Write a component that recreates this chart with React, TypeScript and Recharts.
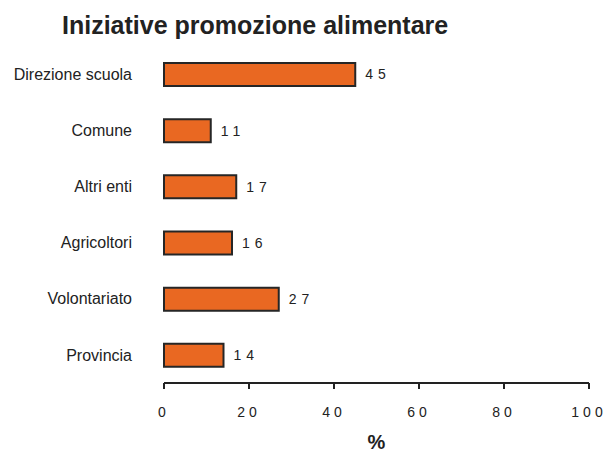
import React from 'react';
import { BarChart, Bar, XAxis, YAxis, LabelList } from 'recharts';

const CATEGORIES = ['Direzione scuola', 'Comune', 'Altri enti', 'Agricoltori', 'Volontariato', 'Provincia'];
const VALUES = [45, 11, 17, 16, 27, 14];
const X_TICKS = [0, 20, 40, 60, 80, 100];

const data = CATEGORIES.map((name, i) => ({ name, value: VALUES[i] }));

const FONT = '"Liberation Sans", Arial, sans-serif';
const INK = '#222222';

export default function App() {
  return (
    <div style={{ position: 'absolute', left: 0, top: 0, width: 606, height: 454, background: '#fff', fontFamily: FONT }}>
      <div
        style={{
          position: 'absolute',
          left: 62,
          top: 13,
          fontSize: 25,
          lineHeight: '25px',
          fontWeight: 'bold',
          color: INK,
          whiteSpace: 'nowrap',
        }}
      >
        Iniziative promozione alimentare
      </div>
      <BarChart
        width={606}
        height={454}
        data={data}
        layout="vertical"
        margin={{ top: 46, right: 17, bottom: 41, left: 0 }}
        barSize={23}
      >
        <XAxis
          type="number"
          domain={[0, 100]}
          ticks={X_TICKS}
          interval={0}
          height={30}
          axisLine={{ stroke: INK, strokeWidth: 2 }}
          tickLine={{ stroke: INK, strokeWidth: 2 }}
          tickSize={6}
          tickMargin={18}
          tick={{ fill: INK, fontSize: 14, fontFamily: FONT, letterSpacing: 4 }}
          label={{ value: '%', position: 'bottom', offset: 22, fill: INK, fontSize: 20, fontWeight: 'bold', fontFamily: FONT }}
        />
        <YAxis
          type="category"
          dataKey="name"
          width={164}
          axisLine={false}
          tickLine={false}
          tickSize={0}
          tickMargin={32}
          tick={{ fill: INK, fontSize: 16, fontFamily: FONT }}
        />
        <Bar dataKey="value" fill="#E96822" stroke="#262626" strokeWidth={2} isAnimationActive={false}>
          <LabelList
            dataKey="value"
            position="right"
            offset={10}
            fill={INK}
            fontSize={14}
            fontFamily={FONT}
            letterSpacing={5}
          />
        </Bar>
      </BarChart>
    </div>
  );
}
